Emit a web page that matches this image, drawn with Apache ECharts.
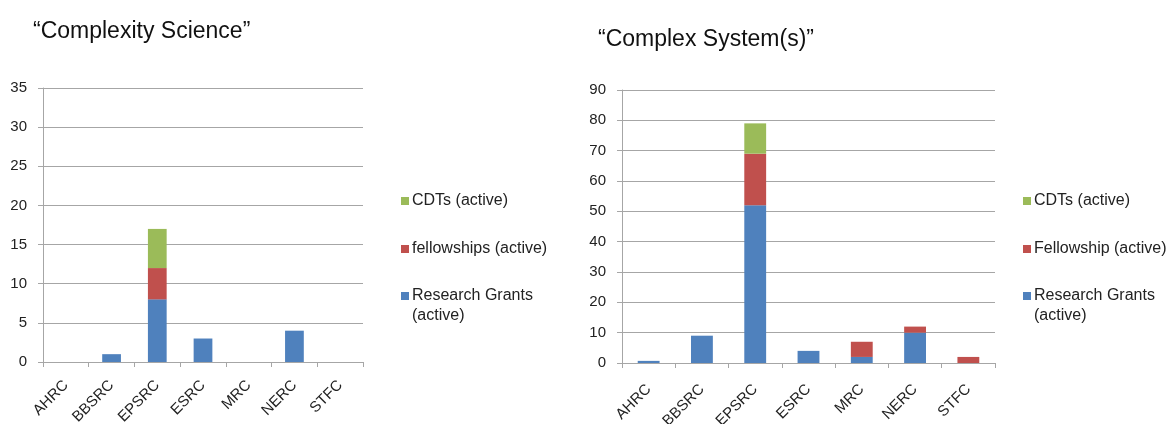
<!DOCTYPE html>
<html>
<head>
<meta charset="utf-8">
<script src="https://cdn.jsdelivr.net/npm/echarts@6/dist/echarts.min.js"></script>
<style>
  html, body { margin: 0; padding: 0; background: #fff; }
  #chart { width: 1176px; height: 424px; }
</style>
</head>
<body>
<div id="chart"></div>
<script>
// councils, same for both panels
var councils = ['AHRC', 'BBSRC', 'EPSRC', 'ESRC', 'MRC', 'NERC', 'STFC'];

// "Complexity Science"
var sciGrants = [0, 1, 8, 3, 0, 4, 0];
var sciFellows = [0, 0, 4, 0, 0, 0, 0];
var sciCdts = [0, 0, 5, 0, 0, 0, 0];

// "Complex System(s)"
var sysGrants = [0.7, 9, 52, 4, 2, 10, 0];
var sysFellows = [0, 0, 17, 0, 5, 2, 2];
var sysCdts = [0, 0, 10, 0, 0, 0, 0];

var BLUE = '#4f81bd', RED = '#c0504d', GREEN = '#9bbb59';
var FONT = 'Liberation Sans';
var AXIS_GRAY = '#a6a6a6';
var GRANTS = 'Research Grants\n(active)';

var chart = echarts.init(document.getElementById('chart'));

function xAxis(grid, margin) {
    return {
        type: 'category',
        gridIndex: grid,
        data: councils,
        axisLine: { lineStyle: { color: AXIS_GRAY } },
        axisTick: { show: true, length: 5, lineStyle: { color: AXIS_GRAY } },
        axisLabel: { rotate: 45, margin: margin, color: '#222', fontSize: 15, fontFamily: FONT }
    };
}

function yAxis(grid, max, step) {
    return {
        type: 'value',
        gridIndex: grid,
        min: 0,
        max: max,
        interval: step,
        axisLine: { show: true, lineStyle: { color: AXIS_GRAY } },
        axisTick: { show: true, length: 5, lineStyle: { color: AXIS_GRAY } },
        axisLabel: { margin: 16, color: '#222', fontSize: 15, fontFamily: FONT },
        splitLine: { lineStyle: { color: AXIS_GRAY } }
    };
}

function bar(name, data, color, grid, stack) {
    return {
        name: name,
        type: 'bar',
        xAxisIndex: grid,
        yAxisIndex: grid,
        stack: stack,
        barWidth: '41%',
        itemStyle: { color: color },
        data: data
    };
}

/* legend boxes; the grants entry sits in its own box so that its
   square lines up with the first of its two lines */
function legend(left, top, names, lead) {
    return {
        orient: 'vertical',
        left: left,
        top: top,
        itemWidth: 8,
        itemHeight: 8,
        itemGap: 28,
        icon: 'rect',
        textStyle: { fontSize: 16, lineHeight: 20, color: '#222', fontFamily: FONT, padding: [0, 0, 0, -2] },
        formatter: function (name) { return (lead ? '\n' : '') + name; },
        data: names
    };
}

chart.setOption({
    animation: false,
    title: [
        { text: '\u201cComplexity Science\u201d', left: 28, top: 15,
          textStyle: { fontSize: 23, fontWeight: 'normal', color: '#111', fontFamily: FONT } },
        { text: '\u201cComplex System(s)\u201d', left: 593, top: 23,
          textStyle: { fontSize: 23, fontWeight: 'normal', color: '#111', fontFamily: FONT } }
    ],
    legend: [
        legend(396, 186, ['CDTs (active)', 'fellowships (active)'], false),
        legend(396, 261, [GRANTS], true),
        legend(1018, 186, ['CDTs (active)', 'Fellowship (active)'], false),
        legend(1018, 261, [GRANTS], true)
    ],
    // labels may run off the bottom edge as in the original, so no fitting
    grid: [
        { left: 43, top: 88, width: 320, height: 274, outerBoundsMode: 'none' },
        { left: 622, top: 90, width: 373, height: 273, outerBoundsMode: 'none' }
    ],
    xAxis: [xAxis(0, 21), xAxis(1, 24)],
    yAxis: [yAxis(0, 35, 5), yAxis(1, 90, 10)],
    series: [
        bar(GRANTS, sciGrants, BLUE, 0, 'sci'),
        bar('fellowships (active)', sciFellows, RED, 0, 'sci'),
        bar('CDTs (active)', sciCdts, GREEN, 0, 'sci'),
        bar(GRANTS, sysGrants, BLUE, 1, 'sys'),
        bar('Fellowship (active)', sysFellows, RED, 1, 'sys'),
        bar('CDTs (active)', sysCdts, GREEN, 1, 'sys')
    ]
});
</script>
</body>
</html>
